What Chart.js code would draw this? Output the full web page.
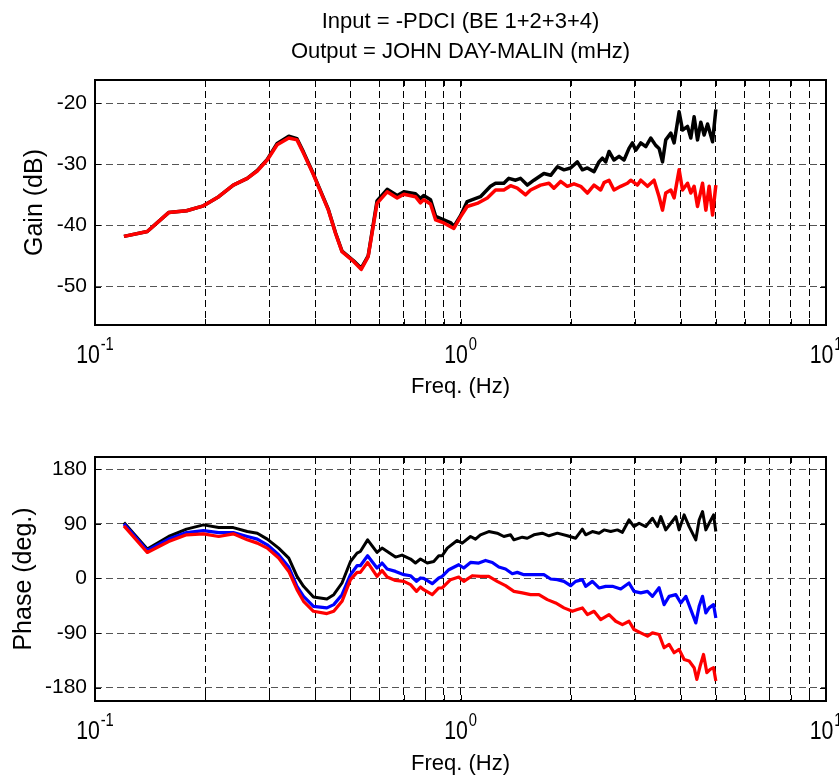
<!DOCTYPE html>
<html>
<head>
<meta charset="utf-8">
<script src="https://cdn.jsdelivr.net/npm/chart.js@4.4.0/dist/chart.umd.min.js"></script>
<style>
html,body{margin:0;padding:0;background:#fff;width:839px;height:776px;overflow:hidden}
canvas{position:absolute;left:0}
#gain{top:0}
#phase{top:400px}
</style>
</head>
<body>
<canvas id="gain" width="839" height="400"></canvas>
<canvas id="phase" width="839" height="376"></canvas>
<script>
// ---- text ----
const titleLines = ['Input = -PDCI (BE 1+2+3+4)', 'Output = JOHN DAY-MALIN (mHz)'];
const xTitle = 'Freq. (Hz)';
const gainTitle = 'Gain (dB)';
const phaseTitle = 'Phase (deg.)';

// ---- ticks ----
const xGridValues = [0.1,0.2,0.3,0.4,0.5,0.6,0.7,0.8,0.9,1,2,3,4,5,6,7,8,9,10];
const xDecadeExponents = [-1, 0, 1];
const gainTicks = [-50, -40, -30, -20];
const phaseTicks = [-180, -90, 0, 90, 180];

// ---- gain data ----
const gainRedFreq = [0.12,0.139,0.159,0.178,0.198,0.218,0.239,0.261,0.278,0.296,0.315,0.339,0.357,0.372,0.396,0.435,0.455,0.474,0.510,0.535,0.559,0.591,0.630,0.671,0.700,0.753,0.777,0.793,0.828,0.855,0.900,0.959,1.0,1.043,1.111,1.184,1.247,1.314,1.371,1.430,1.507,1.555,1.656,1.746,1.801,1.879,1.960,2.044,2.132,2.224,2.319,2.418,2.470,2.549,2.630,2.744,2.862,2.923,3.049,3.113,3.248,3.385,3.494,3.570,3.644,3.762,3.841,3.964,4.050,4.180,4.267,4.357,4.451,4.594,4.691,4.790,4.894,4.996];
const gainRedDb = [-41.8,-41.0,-37.9,-37.6,-36.8,-35.3,-33.4,-32.3,-31.1,-29.3,-26.8,-25.7,-26.0,-28.2,-31.7,-37.5,-41.3,-44.3,-45.9,-47.2,-45.1,-36.4,-34.5,-35.5,-34.9,-35.3,-36.3,-35.8,-36.5,-39.1,-39.6,-40.5,-38.6,-36.9,-36.4,-35.5,-34.2,-34.2,-33.5,-33.9,-35.0,-34.2,-33.4,-33.1,-33.9,-32.8,-33.6,-33.2,-33.6,-34.7,-33.4,-34.2,-33.0,-32.6,-34.2,-33.6,-33.1,-32.6,-33.4,-32.6,-33.6,-32.6,-35.3,-37.5,-34.7,-34.2,-35.5,-30.9,-34.2,-33.1,-34.7,-33.6,-36.9,-33.1,-37.5,-33.6,-38.3,-33.4];

const gainBlackFreq = [0.12,0.139,0.159,0.178,0.198,0.218,0.239,0.261,0.278,0.296,0.315,0.339,0.357,0.372,0.396,0.435,0.455,0.474,0.510,0.535,0.559,0.591,0.630,0.671,0.700,0.753,0.777,0.793,0.828,0.855,0.900,0.941,0.959,1.0,1.043,1.134,1.208,1.247,1.314,1.356,1.415,1.460,1.523,1.588,1.691,1.765,1.841,1.919,2.001,2.088,2.155,2.224,2.319,2.393,2.445,2.496,2.549,2.630,2.715,2.802,2.891,2.954,3.016,3.113,3.213,3.315,3.421,3.494,3.570,3.644,3.762,3.841,3.964,4.050,4.180,4.267,4.357,4.451,4.545,4.641,4.742,4.894,4.996];
const gainBlackDb = [-41.8,-41.0,-37.9,-37.6,-36.8,-35.3,-33.4,-32.3,-31.0,-29.2,-26.6,-25.4,-25.8,-28.0,-31.6,-37.4,-41.2,-44.2,-45.8,-47.0,-45.0,-36.0,-34.1,-35.1,-34.5,-34.8,-35.6,-35.1,-35.8,-38.5,-39.1,-39.6,-40.2,-38.4,-36.1,-35.3,-33.6,-33.1,-33.1,-32.3,-32.6,-32.3,-33.4,-32.6,-31.5,-31.8,-30.4,-30.9,-30.6,-29.6,-30.9,-30.6,-31.2,-29.6,-29.0,-29.6,-27.9,-29.3,-28.7,-29.3,-27.4,-26.5,-27.7,-26.5,-27.1,-25.7,-26.9,-27.4,-29.6,-26.0,-24.9,-26.5,-21.4,-24.4,-23.8,-25.7,-22.2,-26.0,-23.1,-25.2,-23.4,-26.3,-21.0];

// ---- phase data ----
const phaseBlackFreq = [0.12,0.139,0.159,0.178,0.198,0.218,0.239,0.261,0.278,0.296,0.318,0.339,0.357,0.372,0.396,0.431,0.450,0.474,0.500,0.521,0.532,0.557,0.591,0.610,0.664,0.692,0.730,0.753,0.777,0.811,0.845,0.872,0.891,0.920,0.979,1.011,1.065,1.099,1.134,1.195,1.260,1.314,1.371,1.400,1.476,1.523,1.588,1.674,1.746,1.841,1.960,2.066,2.155,2.200,2.295,2.393,2.470,2.576,2.687,2.773,2.891,2.984,3.080,3.213,3.351,3.459,3.531,3.644,3.762,3.882,3.964,4.091,4.223,4.404,4.497,4.594,4.691,4.790,4.924,4.996];
const phaseBlackDeg = [92,48.3,69.0,81.1,88.2,83.7,83.7,77.2,74.5,64.7,49.9,33.5,3.3,-13.1,-30.5,-33.8,-26.8,-7.6,27.9,41.7,44.3,63.5,42.7,49.9,35.1,38.4,31.9,25.3,31.9,25.3,27.9,37.3,37.3,49.9,62.4,58.1,69.0,64.7,71.8,77.2,74.5,69.0,71.8,63.5,67.9,66.2,71.8,74.5,70.2,74.5,70.2,66.2,81.1,71.8,77.2,74.5,79.9,77.2,79.9,75.9,96.3,85.4,90.9,85.4,99.1,85.4,101.8,79.9,90.9,101.8,79.9,104.6,85.4,63.5,96.3,110.0,79.9,90.9,104.6,77.2];

const phaseBlueFreq = [0.12,0.139,0.159,0.178,0.198,0.218,0.239,0.261,0.278,0.296,0.318,0.339,0.357,0.372,0.396,0.431,0.450,0.474,0.500,0.521,0.532,0.557,0.591,0.610,0.630,0.664,0.700,0.730,0.758,0.777,0.793,0.837,0.872,0.891,0.929,0.989,1.021,1.065,1.122,1.171,1.222,1.273,1.328,1.386,1.430,1.491,1.588,1.691,1.765,1.841,1.919,2.001,2.066,2.155,2.200,2.295,2.393,2.496,2.604,2.744,2.891,2.984,3.113,3.248,3.351,3.494,3.606,3.722,3.882,4.006,4.135,4.267,4.404,4.497,4.594,4.691,4.790,4.924,4.996];
const phaseBlueDeg = [89.8,46.0,64.7,75.5,78.8,75.5,75.5,69.0,64.7,55.3,38.9,18.7,-13.1,-29.6,-46.0,-48.6,-43.2,-26.8,6.1,20.9,20.9,37.3,17.1,25.3,15.4,11.5,6.1,4.4,-4.9,0.7,0,-8.7,0.7,3.3,14.3,22.5,17.1,26.3,25.3,29.6,26.3,18.7,15.4,7.7,9.9,6.1,6.1,6.1,-1.0,-2.1,-4.9,-12.0,-4.9,-2.1,-13.1,-4.9,-15.8,-13.1,-13.1,-17.4,-7.6,-21.3,-23.9,-21.3,-29.6,-15.3,-43.2,-29.6,-26.8,-40.5,-29.6,-51.4,-73.3,-46.0,-29.6,-56.9,-48.6,-43.2,-65.1];

const phaseRedFreq = [0.12,0.139,0.159,0.178,0.198,0.218,0.239,0.261,0.278,0.296,0.318,0.339,0.357,0.372,0.396,0.431,0.450,0.474,0.500,0.521,0.532,0.557,0.591,0.610,0.630,0.664,0.700,0.730,0.758,0.777,0.793,0.837,0.872,0.891,0.939,0.989,1.021,1.077,1.134,1.195,1.260,1.328,1.400,1.476,1.555,1.639,1.728,1.821,1.919,2.023,2.088,2.155,2.224,2.319,2.418,2.549,2.659,2.773,2.891,2.984,3.113,3.248,3.351,3.494,3.606,3.722,3.841,3.964,4.091,4.223,4.357,4.432,4.525,4.623,4.721,4.820,4.924,4.996];
const phaseRedDeg = [86.5,42.7,60.7,71.8,73.4,69.0,73.4,63.5,58.1,49.9,33.5,11.5,-18.6,-37.8,-54.2,-58.0,-54.2,-37.8,-2.1,9.9,9.9,26.3,3.3,13.1,2.3,-3.3,-4.9,-10.3,-21.3,-14.1,-18.6,-26.8,-15.8,-15.8,-2.1,2.3,-4.9,4.4,3.3,3.3,-4.9,-12.0,-21.3,-23.9,-26.8,-26.8,-35.0,-40.5,-48.6,-54.2,-51.4,-48.6,-59.6,-54.2,-67.9,-59.6,-70.6,-76.1,-70.6,-84.3,-89.7,-95.2,-89.7,-92.5,-114.3,-108.8,-122.5,-117.0,-133.5,-136.2,-147.1,-166.3,-144.4,-125.3,-155.3,-149.8,-147.1,-169.1];

// ---- helpers ----
const FONT = '"Liberation Sans", Arial, Helvetica, sans-serif';
const pts = (f, v) => f.map((x, i) => ({ x: x, y: v[i] }));

function drawDecade(ctx, px, base, e) {
  const sx = 0.82;
  ctx.save();
  ctx.font = '26px ' + FONT;
  const w1 = ctx.measureText('10').width;
  ctx.font = '18px ' + FONT;
  const es = String(e);
  const w2 = ctx.measureText(es).width;
  const total = (w1 + 1 + w2) * sx;
  ctx.translate(px - total / 2, base);
  ctx.scale(sx, 1);
  ctx.fillStyle = '#000';
  ctx.textAlign = 'left';
  ctx.textBaseline = 'alphabetic';
  ctx.font = '26px ' + FONT;
  ctx.fillText('10', 0, 0);
  ctx.font = '18px ' + FONT;
  ctx.fillText(es, w1 + 1, -13);
  ctx.restore();
}

const framePlugin = {
  id: 'frame',
  afterDraw(chart) {
    const { ctx, chartArea: a, scales } = chart;
    ctx.save();
    ctx.strokeStyle = '#000';
    ctx.lineWidth = 1;
    ctx.setLineDash([]);
    ctx.beginPath();
    xGridValues.forEach(v => {
      const px = Math.round(scales.x.getPixelForValue(v)) + 0.5;
      ctx.moveTo(px, a.bottom); ctx.lineTo(px, a.bottom - 6);
      ctx.moveTo(px, a.top); ctx.lineTo(px, a.top + 6);
    });
    scales.y.ticks.forEach(t => {
      const py = Math.round(scales.y.getPixelForValue(t.value)) + 0.5;
      ctx.moveTo(a.left, py); ctx.lineTo(a.left + 6, py);
      ctx.moveTo(a.right, py); ctx.lineTo(a.right - 6, py);
    });
    ctx.stroke();
    ctx.lineWidth = 2;
    ctx.strokeRect(a.left, a.top, a.right - a.left, a.bottom - a.top);
    ctx.restore();
    xDecadeExponents.forEach(e => {
      drawDecade(ctx, scales.x.getPixelForValue(Math.pow(10, e)), a.bottom + 38, e);
    });
  }
};

function xScale(titleLineHeight) {
  return {
    type: 'logarithmic', min: 0.1, max: 10,
    afterBuildTicks: s => { s.ticks = xGridValues.map(v => ({ value: v })); },
    afterFit: s => { s.height = 75; },
    grid: { color: '#000', lineWidth: 1, drawTicks: false },
    border: { display: false, dash: [7, 4] },
    ticks: { display: false, autoSkip: false },
    title: { display: true, text: xTitle, color: '#000',
      font: { family: FONT, size: 22, lineHeight: titleLineHeight },
      padding: { top: 0, bottom: 0 } }
  };
}

function yScale(min, max, tickValues, title, titlePad) {
  return {
    min: min, max: max,
    afterBuildTicks: s => { s.ticks = tickValues.map(v => ({ value: v })); },
    afterFit: s => { s.width = 95; },
    grid: { color: '#555', lineWidth: 1, drawTicks: false },
    border: { display: false, dash: [7, 4] },
    ticks: { padding: 8, color: '#000', font: { family: FONT, size: 21 } },
    title: { display: true, text: title, color: '#000',
      font: { family: FONT, size: 25, lineHeight: 1.2 },
      padding: { top: titlePad, bottom: 0 } }
  };
}

function line(data, color, width) {
  return { data: data, borderColor: color, backgroundColor: color, borderWidth: width,
    pointRadius: 0, tension: 0, fill: false, borderJoinStyle: 'round' };
}

new Chart(document.getElementById('gain'), {
  type: 'line',
  data: {
    datasets: [
      line(pts(gainRedFreq, gainRedDb), '#ff0000', 3.5),
      line(pts(gainBlackFreq, gainBlackDb), '#000000', 3.5)
    ]
  },
  options: {
    responsive: false, animation: false,
    layout: { padding: { left: 0, right: 13, top: 0, bottom: 0 } },
    plugins: {
      legend: { display: false }, tooltip: { enabled: false },
      title: { display: true, text: titleLines, color: '#000', fullSize: false,
        font: { family: FONT, size: 22, weight: 'normal', lineHeight: 30 / 22 },
        padding: { top: 7.4, bottom: 12.6 } }
    },
    scales: {
      x: xScale(1.2),
      y: yScale(-56.3, -16.2, gainTicks, gainTitle, 20)
    }
  },
  plugins: [framePlugin]
});

new Chart(document.getElementById('phase'), {
  type: 'line',
  data: {
    datasets: [
      line(pts(phaseRedFreq, phaseRedDeg), '#ff0000', 3.2),
      line(pts(phaseBlueFreq, phaseBlueDeg), '#0000ff', 3.2),
      line(pts(phaseBlackFreq, phaseBlackDeg), '#000000', 3)
    ]
  },
  options: {
    responsive: false, animation: false,
    layout: { padding: { left: 0, right: 13, top: 57, bottom: 0 } },
    plugins: { legend: { display: false }, tooltip: { enabled: false } },
    scales: {
      x: xScale(1.1),
      y: yScale(-202, 200, phaseTicks, phaseTitle, 9)
    }
  },
  plugins: [framePlugin]
});
</script>
</body>
</html>
